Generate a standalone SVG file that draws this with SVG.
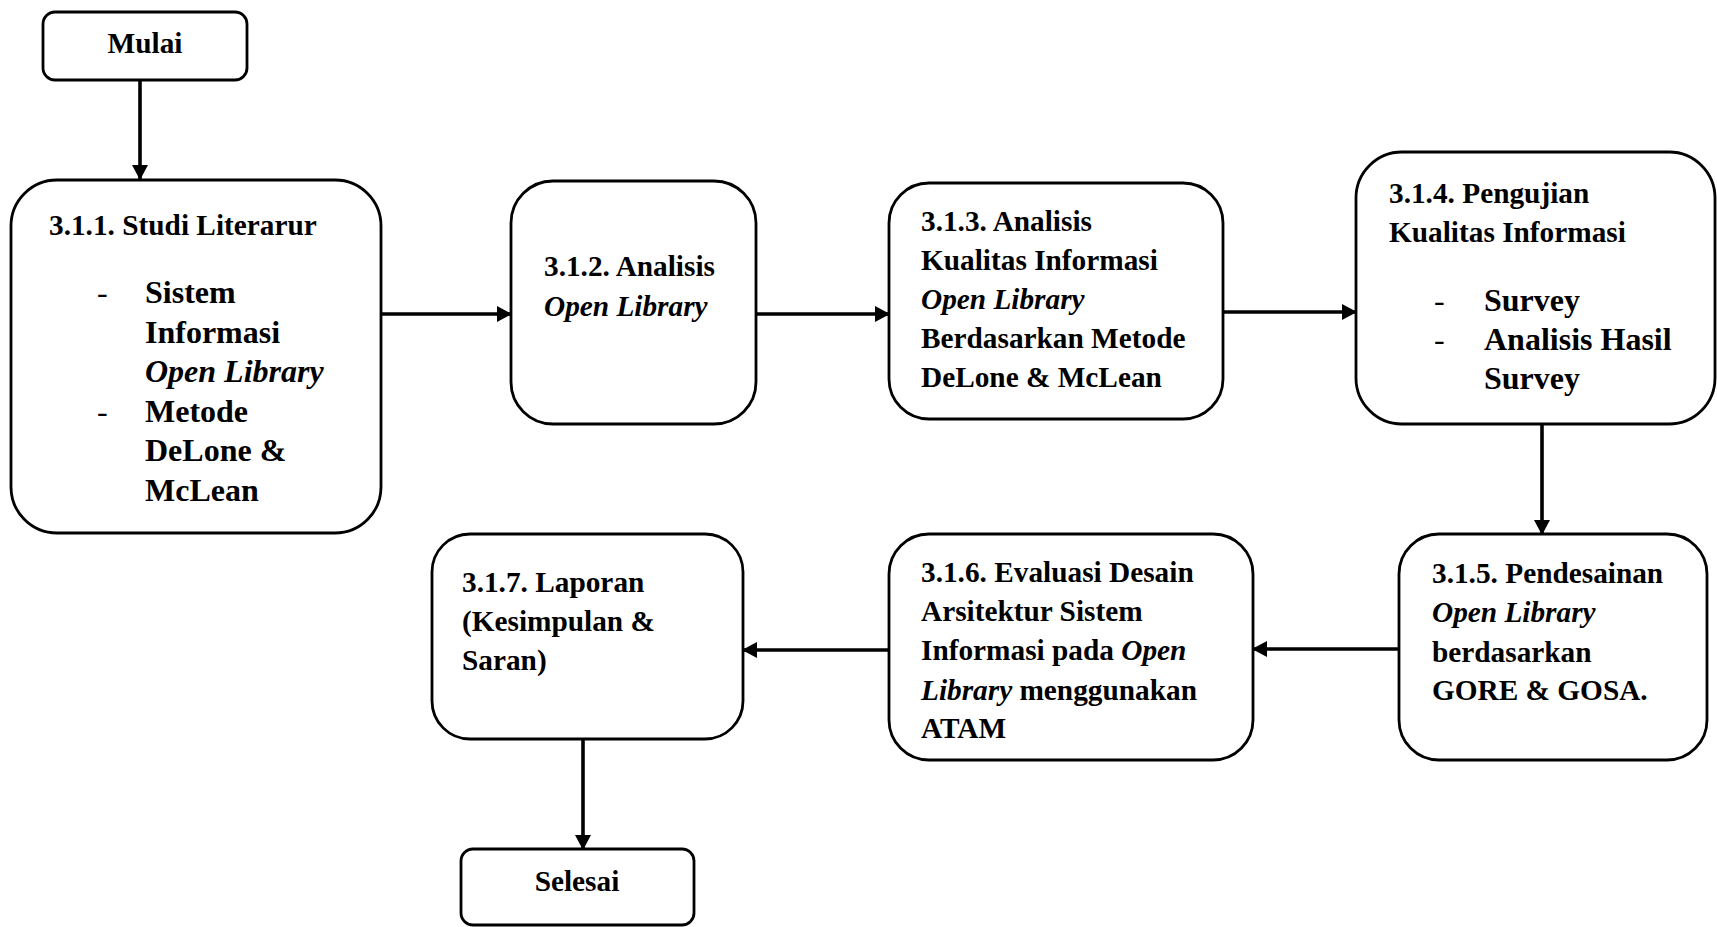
<svg xmlns="http://www.w3.org/2000/svg" width="1717" height="927" viewBox="0 0 1717 927">
<defs>
<style>
.box{fill:#fff;stroke:#000;stroke-width:2.8}
.t{font-family:'Liberation Serif','Times New Roman',serif;font-weight:bold;font-size:29.3px;fill:#000}
.b{font-size:32px}
.i{font-style:italic}
.d{font-weight:normal}
.c{fill:none;stroke:#000;stroke-width:3.6}
</style>
<marker id="ah" markerUnits="userSpaceOnUse" markerWidth="16" markerHeight="16" refX="15" refY="8" orient="auto">
<path d="M0,0 L15,8 L0,16 z" fill="#000"/>
</marker>
</defs>
<rect width="1717" height="927" fill="#fff"/>
<g id="connectors">
<line class="c" x1="140" y1="80" x2="140" y2="180" marker-end="url(#ah)"/>
<line class="c" x1="381" y1="314" x2="512" y2="314" marker-end="url(#ah)"/>
<line class="c" x1="756" y1="314" x2="890" y2="314" marker-end="url(#ah)"/>
<line class="c" x1="1223" y1="312" x2="1357" y2="312" marker-end="url(#ah)"/>
<line class="c" x1="1542" y1="425" x2="1542" y2="535" marker-end="url(#ah)"/>
<line class="c" x1="1399" y1="649" x2="1252" y2="649" marker-end="url(#ah)"/>
<line class="c" x1="889" y1="650" x2="742" y2="650" marker-end="url(#ah)"/>
<line class="c" x1="583" y1="739" x2="583" y2="850" marker-end="url(#ah)"/>
</g>
<g id="mulai">
<rect class="box" x="43" y="12" width="204" height="68" rx="12"/>
<text class="t" x="145" y="53" text-anchor="middle">Mulai</text>
</g>
<g id="n311">
<rect class="box" x="11" y="180" width="370" height="353" rx="46"/>
<text class="t" x="49" y="235">3.1.1. Studi Literarur</text>
<text class="t b d" x="97" y="303">-</text>
<text class="t b" x="145" y="303">Sistem</text>
<text class="t b" x="145" y="343">Informasi</text>
<text class="t b i" x="145" y="382">Open Library</text>
<text class="t b d" x="97" y="422">-</text>
<text class="t b" x="145" y="422">Metode</text>
<text class="t b" x="145" y="461">DeLone &amp;</text>
<text class="t b" x="145" y="501">McLean</text>
</g>
<g id="n312">
<rect class="box" x="511" y="181" width="245" height="243" rx="42"/>
<text class="t" x="544" y="276">3.1.2. Analisis</text>
<text class="t i" x="544" y="316">Open Library</text>
</g>
<g id="n313">
<rect class="box" x="889" y="183" width="334" height="236" rx="40"/>
<text class="t" x="921" y="231">3.1.3. Analisis</text>
<text class="t" x="921" y="270">Kualitas Informasi</text>
<text class="t i" x="921" y="309">Open Library</text>
<text class="t" x="921" y="348">Berdasarkan Metode</text>
<text class="t" x="921" y="387">DeLone &amp; McLean</text>
</g>
<g id="n314">
<rect class="box" x="1356" y="152" width="359" height="272" rx="46"/>
<text class="t" x="1389" y="203">3.1.4. Pengujian</text>
<text class="t" x="1389" y="242">Kualitas Informasi</text>
<text class="t b d" x="1434" y="311">-</text>
<text class="t b" x="1484" y="311">Survey</text>
<text class="t b d" x="1434" y="350">-</text>
<text class="t b" x="1484" y="350">Analisis Hasil</text>
<text class="t b" x="1484" y="389">Survey</text>
</g>
<g id="n315">
<rect class="box" x="1399" y="534" width="308" height="226" rx="40"/>
<text class="t" x="1432" y="583">3.1.5. Pendesainan</text>
<text class="t i" x="1432" y="622">Open Library</text>
<text class="t" x="1432" y="662">berdasarkan</text>
<text class="t" x="1432" y="700">GORE &amp; GOSA.</text>
</g>
<g id="n316">
<rect class="box" x="889" y="534" width="364" height="226" rx="40"/>
<text class="t" x="921" y="582">3.1.6. Evaluasi Desain</text>
<text class="t" x="921" y="621">Arsitektur Sistem</text>
<text class="t" x="921" y="660">Informasi pada <tspan class="i">Open</tspan></text>
<text class="t" x="921" y="700"><tspan class="i">Library</tspan> menggunakan</text>
<text class="t" x="921" y="738">ATAM</text>
</g>
<g id="n317">
<rect class="box" x="432" y="534" width="311" height="205" rx="38"/>
<text class="t" x="462" y="592">3.1.7. Laporan</text>
<text class="t" x="462" y="631">(Kesimpulan &amp;</text>
<text class="t" x="462" y="670">Saran)</text>
</g>
<g id="selesai">
<rect class="box" x="461" y="849" width="233" height="76" rx="12"/>
<text class="t" x="577" y="891" text-anchor="middle">Selesai</text>
</g>
</svg>
